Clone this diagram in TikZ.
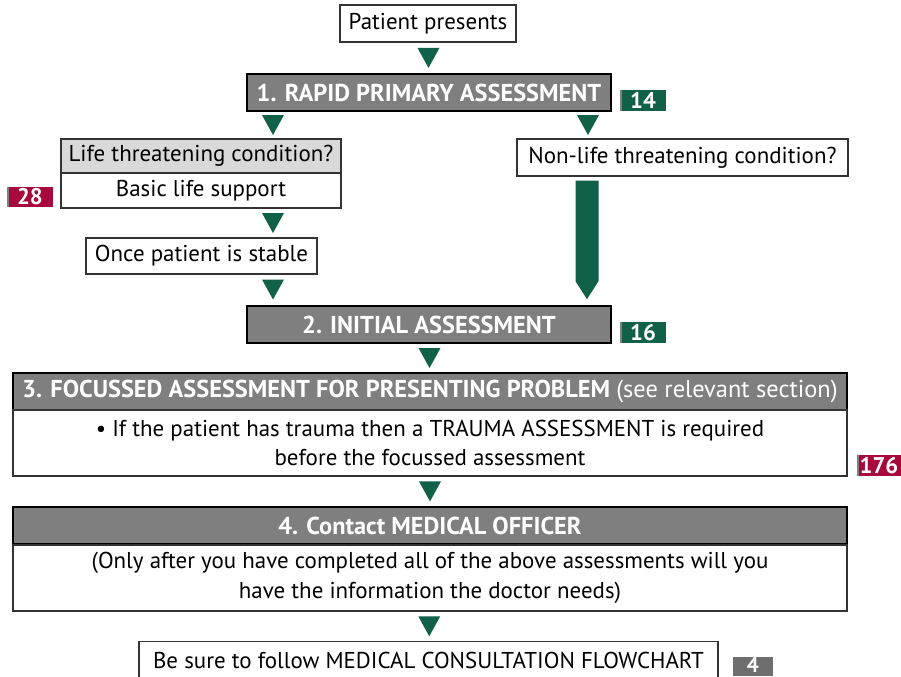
\documentclass[tikz,border=0pt]{standalone}
\usepackage{fontspec}
\setmainfont{PT Sans}
\usetikzlibrary{calc}
\definecolor{gr}{HTML}{11604A}
\definecolor{rd}{HTML}{A8093C}
\definecolor{hd}{HTML}{7F7F7F}
\definecolor{lg}{HTML}{D9D9D9}
\definecolor{tg}{HTML}{6E6E6E}
\definecolor{bd}{HTML}{333333}
\tikzset{
  sz/.style 2 args={minimum width=#1*0.75pt, minimum height=#2*0.75pt},
  wbox/.style={draw=bd, line width=0.8pt, fill=white, inner sep=0pt, font=\fontsize{17.2}{22}\selectfont, text=black},
  gbox/.style={wbox, fill=lg},
  hbox/.style={draw=black, line width=1.2pt, fill=hd, inner sep=0pt, font=\fontsize{18.3}{22}\selectfont\bfseries, text=white},
  tagbox/.style={inner sep=0pt, font=\fontsize{17}{20}\selectfont\bfseries, text=white},
  tri/.pic={\fill[gr] (-11,-10) -- (11,-10) -- (0,10) -- cycle;},
}
\begin{document}
\begin{tikzpicture}[x=0.75pt,y=-0.75pt]
\useasboundingbox (0,0) rectangle (901,676);
\clip (0,0) rectangle (901,676);
% boxes
\node[wbox, sz={176}{37}] (p) at (428,23.5) {Patient presents};
\node[hbox, sz={364}{37}] (r1) at (429,92.5) {1. RAPID PRIMARY ASSESSMENT};
\node[tagbox, fill=gr, sz={46}{21}] (t14) at (643,100.5) {14};
\node[gbox, sz={280}{34}] (lt) at (201,156) {Life threatening condition?};
\node[wbox, sz={280}{35}] (bl) at (201,190.5) {Basic life support};
\node[tagbox, fill=rd, sz={46}{20}] (t28) at (30,197) {28};
\node[wbox, sz={331}{37}] (nl) at (682.5,157.5) {Non-life threatening condition?};
\node[wbox, sz={231}{36}] (st) at (201.5,256) {Once patient is stable};
\node[hbox, sz={364}{37}] (r2) at (429,324.5) {2. INITIAL ASSESSMENT};
\node[tagbox, fill=gr, sz={46}{21}] (t16) at (643,332.5) {16};
\node[hbox, sz={834}{37}] (f3h) at (430,391.5) {3. FOCUSSED ASSESSMENT FOR PRESENTING PROBLEM \mdseries(see relevant section)};
\node[wbox, sz={834}{66}, align=center] (f3b) at (430,443) {• If the patient has trauma then a TRAUMA ASSESSMENT is required\\before the focussed assessment};
\node[tagbox, fill=rd, sz={44}{21}] (t176) at (879,465.5) {176};
\node[hbox, sz={834}{37}] (m4h) at (430,525.5) {4. Contact MEDICAL OFFICER};
\node[wbox, sz={834}{66}, align=center, font=\fontsize{17.2}{23}\selectfont] (m4b) at (430,578) {(Only after you have completed all of the above assessments will you\\have the information the doctor needs)};
\node[wbox, sz={579}{60}, anchor=north] (fl) at (428.5,641) {};
\node[font=\fontsize{17.2}{20}\selectfont, inner sep=0pt] (flt) at (428.5,660) {Be sure to follow MEDICAL CONSULTATION FLOWCHART};
\node[tagbox, fill=tg, sz={40}{19}, text height=8.5pt, text depth=0pt, font=\fontsize{16}{18}\selectfont\bfseries] (t4) at (753,666.5) {4};
% tag side bars
\foreach \t in {t14,t16,t176,t28}{
  \draw[gray, line width=1.5pt] ($(\t.north west)+(1,0)$) -- ($(\t.south west)+(1,0)$);
}
% triangle connectors
\pic at ($(p.south)!0.5!(r1.north)$) {tri};
\pic at (273,125) {tri};
\pic at (588,125) {tri};
\pic at (273,223) {tri};
\pic at (273,289.5) {tri};
\pic at ($(r2.south)!0.5!(f3h.north)$) {tri};
\pic at ($(f3b.south)!0.5!(m4h.north)$) {tri};
\pic at ($(m4b.south)!0.5!(fl.north)$) {tri};
% big arrow
\coordinate (ba1) at ($(nl.south)+(-95.5,4)$);
\fill[gr] ($(ba1)+(-11.5,0)$) -- ($(ba1)+(11.5,0)$) -- ($(r2.north -| ba1)+(11.5,-24)$) -- ($(r2.north -| ba1)+(0,-6)$) -- ($(r2.north -| ba1)+(-11.5,-24)$) -- cycle;
\end{tikzpicture}
\end{document}
